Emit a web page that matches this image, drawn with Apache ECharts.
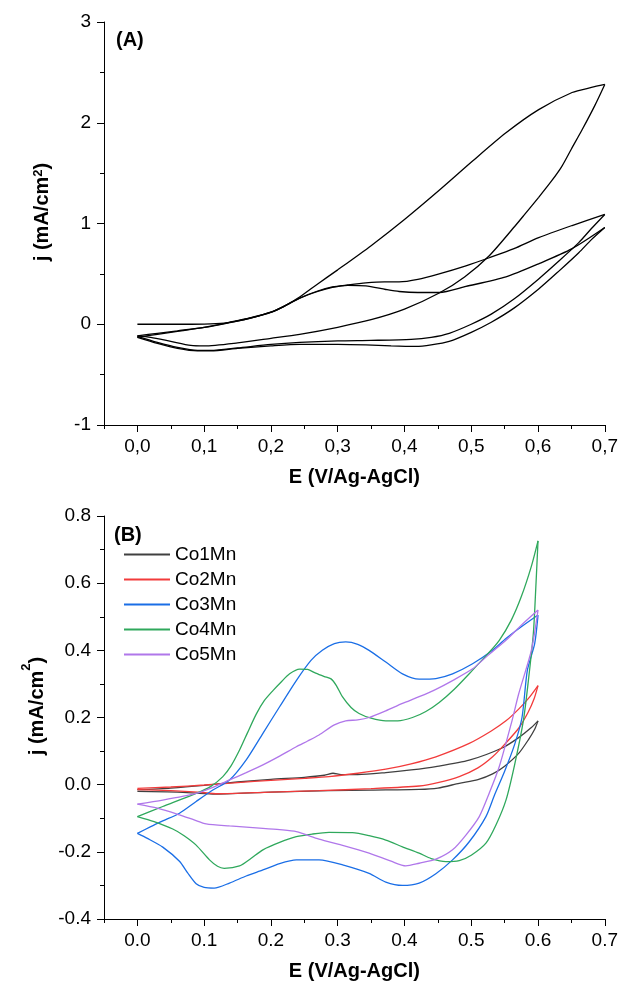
<!DOCTYPE html>
<html><head><meta charset="utf-8">
<script src="https://cdn.jsdelivr.net/npm/echarts@6.0.0/dist/echarts.min.js"></script>
<style>html,body{margin:0;padding:0;background:#fff}#c{width:621px;height:982px}</style>
</head><body><div id="c"></div>
<script>
// ---------- Panel (A): three CV scans (E in V, j in mA/cm2) ----------
const scanA1Forward = [[0,0],[0.05,0],[0.1,0.002],[0.13,0.012],[0.16,0.045],[0.2,0.12],[0.22,0.18],[0.243,0.27],[0.27,0.4],[0.3,0.54],[0.35,0.78],[0.4,1.04],[0.452,1.33],[0.502,1.62],[0.552,1.9],[0.601,2.13],[0.651,2.3],[0.68,2.35],[0.7,2.38]];
const scanA1Reverse = [[0.7,2.38],[0.685,2.17],[0.666,1.93],[0.65,1.74],[0.635,1.56],[0.62,1.42],[0.601,1.26],[0.58,1.09],[0.565,0.97],[0.527,0.68],[0.49,0.47],[0.452,0.31],[0.4,0.15],[0.35,0.045],[0.3,-0.03],[0.243,-0.1],[0.2,-0.14],[0.15,-0.185],[0.1,-0.215],[0.08,-0.21],[0.05,-0.17],[0.02,-0.13],[0,-0.115]];
const scanA2Forward = [[0,-0.115],[0.03,-0.09],[0.06,-0.065],[0.1,-0.03],[0.142,0.025],[0.17,0.065],[0.2,0.12],[0.22,0.18],[0.243,0.26],[0.27,0.33],[0.292,0.37],[0.315,0.39],[0.342,0.41],[0.37,0.42],[0.392,0.42],[0.42,0.445],[0.452,0.5],[0.492,0.58],[0.527,0.66],[0.564,0.75],[0.601,0.86],[0.651,0.98],[0.7,1.09]];
const scanA2Reverse = [[0.7,1.09],[0.68,0.95],[0.661,0.81],[0.63,0.62],[0.601,0.45],[0.564,0.25],[0.53,0.1],[0.5,0],[0.467,-0.09],[0.44,-0.13],[0.41,-0.15],[0.35,-0.16],[0.3,-0.165],[0.243,-0.18],[0.2,-0.2],[0.15,-0.235],[0.11,-0.26],[0.09,-0.26],[0.06,-0.23],[0.03,-0.18],[0,-0.12]];
const scanA3Forward = [[0,-0.13],[0.03,-0.1],[0.06,-0.07],[0.1,-0.032],[0.142,0.022],[0.17,0.062],[0.2,0.118],[0.22,0.178],[0.243,0.258],[0.27,0.325],[0.292,0.365],[0.315,0.385],[0.342,0.38],[0.372,0.345],[0.392,0.325],[0.42,0.315],[0.452,0.315],[0.492,0.375],[0.552,0.47],[0.601,0.6],[0.651,0.75],[0.7,0.96]];
const scanA3Reverse = [[0.7,0.96],[0.68,0.84],[0.661,0.71],[0.63,0.52],[0.601,0.35],[0.564,0.16],[0.53,0.02],[0.5,-0.08],[0.467,-0.17],[0.44,-0.205],[0.417,-0.22],[0.38,-0.215],[0.342,-0.205],[0.3,-0.2],[0.243,-0.2],[0.2,-0.215],[0.15,-0.24],[0.11,-0.265],[0.09,-0.265],[0.06,-0.24],[0.03,-0.19],[0,-0.13]];

// ---------- Panel (B): CoxMn samples ----------
const sampleNames = ['Co1Mn','Co2Mn','Co3Mn','Co4Mn','Co5Mn'];
const co1Forward = [[0,-0.015],[0.05,-0.01],[0.1,-0.002],[0.15,0.008],[0.2,0.016],[0.25,0.022],[0.28,0.028],[0.293,0.034],[0.305,0.03],[0.33,0.03],[0.372,0.036],[0.41,0.044],[0.447,0.054],[0.497,0.073],[0.547,0.11],[0.571,0.14],[0.59,0.17],[0.6,0.19]];
const co1Reverse = [[0.6,0.19],[0.595,0.165],[0.586,0.135],[0.571,0.093],[0.55,0.055],[0.532,0.032],[0.51,0.015],[0.482,0.004],[0.45,-0.01],[0.422,-0.014],[0.35,-0.016],[0.287,-0.018],[0.2,-0.022],[0.113,-0.028],[0.06,-0.022],[0,-0.02]];
const co2Forward = [[0,-0.011],[0.05,-0.007],[0.1,-0.001],[0.15,0.006],[0.2,0.013],[0.25,0.019],[0.287,0.024],[0.33,0.034],[0.372,0.046],[0.41,0.062],[0.447,0.083],[0.497,0.123],[0.53,0.16],[0.552,0.19],[0.571,0.225],[0.587,0.26],[0.6,0.295]];
const co2Reverse = [[0.6,0.295],[0.594,0.255],[0.585,0.215],[0.571,0.168],[0.55,0.12],[0.532,0.083],[0.51,0.05],[0.482,0.024],[0.45,0.006],[0.422,-0.004],[0.35,-0.012],[0.272,-0.018],[0.2,-0.022],[0.12,-0.027],[0.09,-0.022],[0.05,-0.018],[0,-0.015]];
const co3Forward = [[0,-0.145],[0.02,-0.125],[0.038,-0.108],[0.063,-0.085],[0.088,-0.05],[0.113,-0.016],[0.138,0.014],[0.163,0.074],[0.188,0.153],[0.213,0.232],[0.238,0.31],[0.26,0.37],[0.277,0.4],[0.295,0.42],[0.312,0.425],[0.33,0.418],[0.347,0.4],[0.372,0.365],[0.397,0.33],[0.422,0.314],[0.447,0.316],[0.472,0.33],[0.502,0.36],[0.532,0.4],[0.552,0.435],[0.575,0.47],[0.6,0.505]];
const co3Reverse = [[0.6,0.505],[0.595,0.42],[0.584,0.34],[0.576,0.2],[0.565,0.12],[0.55,0.04],[0.535,-0.03],[0.522,-0.095],[0.497,-0.17],[0.472,-0.224],[0.447,-0.265],[0.422,-0.293],[0.397,-0.3],[0.372,-0.29],[0.347,-0.264],[0.31,-0.24],[0.272,-0.224],[0.238,-0.224],[0.213,-0.235],[0.188,-0.254],[0.163,-0.272],[0.138,-0.293],[0.115,-0.308],[0.1,-0.306],[0.088,-0.295],[0.075,-0.262],[0.063,-0.228],[0.038,-0.186],[0.015,-0.16],[0,-0.145]];
const co4Forward = [[0,-0.095],[0.038,-0.065],[0.088,-0.026],[0.11,-0.005],[0.128,0.024],[0.14,0.055],[0.153,0.103],[0.165,0.155],[0.178,0.21],[0.19,0.25],[0.203,0.28],[0.215,0.305],[0.228,0.33],[0.243,0.344],[0.255,0.343],[0.267,0.332],[0.28,0.322],[0.29,0.315],[0.298,0.295],[0.307,0.262],[0.32,0.23],[0.332,0.212],[0.35,0.198],[0.372,0.19],[0.39,0.19],[0.412,0.2],[0.432,0.218],[0.452,0.245],[0.475,0.285],[0.502,0.341],[0.525,0.39],[0.542,0.43],[0.56,0.49],[0.575,0.56],[0.59,0.65],[0.6,0.726]];
const co4Reverse = [[0.6,0.726],[0.597,0.6],[0.593,0.45],[0.585,0.3],[0.578,0.19],[0.565,0.06],[0.552,-0.046],[0.537,-0.12],[0.522,-0.174],[0.5,-0.21],[0.482,-0.226],[0.462,-0.229],[0.44,-0.22],[0.422,-0.204],[0.397,-0.185],[0.372,-0.165],[0.347,-0.152],[0.322,-0.143],[0.287,-0.142],[0.262,-0.147],[0.238,-0.155],[0.213,-0.172],[0.188,-0.194],[0.17,-0.22],[0.153,-0.242],[0.13,-0.249],[0.12,-0.243],[0.108,-0.224],[0.088,-0.18],[0.07,-0.152],[0.053,-0.132],[0.025,-0.11],[0,-0.095]];
const co5Forward = [[0,-0.058],[0.038,-0.046],[0.088,-0.026],[0.113,-0.008],[0.138,0.014],[0.163,0.036],[0.188,0.059],[0.213,0.085],[0.238,0.113],[0.255,0.13],[0.272,0.148],[0.295,0.178],[0.312,0.19],[0.33,0.193],[0.347,0.2],[0.372,0.22],[0.397,0.242],[0.422,0.262],[0.447,0.284],[0.472,0.31],[0.502,0.345],[0.525,0.385],[0.552,0.43],[0.575,0.475],[0.6,0.52]];
const co5Reverse = [[0.6,0.52],[0.59,0.4],[0.571,0.27],[0.561,0.19],[0.542,0.054],[0.527,-0.025],[0.512,-0.095],[0.492,-0.15],[0.472,-0.194],[0.447,-0.222],[0.422,-0.234],[0.402,-0.242],[0.38,-0.228],[0.347,-0.204],[0.31,-0.182],[0.272,-0.162],[0.238,-0.14],[0.213,-0.134],[0.188,-0.13],[0.138,-0.123],[0.103,-0.117],[0.085,-0.105],[0.063,-0.09],[0.03,-0.07],[0,-0.058]];

// ---------- Tick values ----------
const xMajorTicks = [0,0.1,0.2,0.3,0.4,0.5,0.6,0.7];
const xMinorTicks = [-0.05,0.05,0.15,0.25,0.35,0.45,0.55,0.65];

// ---------- styles ----------
const FONT = 'Liberation Sans, Arial, sans-serif';
const sampleColors = ['#404040','#f23b3b','#1a6ee6','#2fa85c','#b077ea'];
const AXIS = {color:'#000', width:1};

function mainX(grid, fmt){
  return {type:'value', gridIndex:grid, position:'bottom', min:-0.05, max:0.7,
    axisLine:{show:true, onZero:false, lineStyle:AXIS},
    axisTick:{show:true, customValues:xMajorTicks, length:7, lineStyle:AXIS},
    axisLabel:{show:true, customValues:xMajorTicks, formatter:fmt, fontSize:19, color:'#000', fontFamily:FONT, margin:12},
    splitLine:{show:false},
    name:'E (V/Ag-AgCl)', nameLocation:'middle', nameGap:42,
    nameTextStyle:{fontSize:20, fontWeight:'bold', color:'#000', fontFamily:FONT}};
}
function minorX(grid){
  return {type:'value', gridIndex:grid, position:'bottom', min:-0.05, max:0.7,
    axisLine:{show:false, onZero:false},
    axisTick:{show:true, customValues:xMinorTicks, length:4, lineStyle:AXIS},
    axisLabel:{show:false}, splitLine:{show:false}};
}
function yAx(grid, min, max, interval, fmt, raise, gap){
  return {type:'value', gridIndex:grid, min:min, max:max, interval:interval,
    axisLine:{show:true, onZero:false, lineStyle:AXIS},
    axisTick:{show:true, length:7, lineStyle:AXIS},
    minorTick:{show:true, splitNumber:2, length:4, lineStyle:AXIS},
    axisLabel:{formatter:fmt, fontSize:19, color:'#000', fontFamily:FONT, margin:13},
    splitLine:{show:false}, minorSplitLine:{show:false},
    name:'{m|j (mA/cm}{s|2}{m|)}', nameLocation:'middle', nameRotate:90, nameGap:gap,
    nameTextStyle:{fontSize:20, fontWeight:'bold', color:'#000', fontFamily:FONT, padding:[0,0,0,23],
      rich:{m:{fontSize:20, fontWeight:'bold', color:'#000', fontFamily:FONT, lineHeight:raise},
            s:{fontSize:13, fontWeight:'bold', color:'#000', fontFamily:FONT, verticalAlign:'top', lineHeight:13}}}};
}

const series = [];
[scanA1Forward, scanA1Reverse, scanA2Forward, scanA2Reverse, scanA3Forward, scanA3Reverse].forEach(d => {
  series.push({type:'line', xAxisIndex:0, yAxisIndex:0, data:d, symbol:'none', smooth:0.25,
    lineStyle:{color:'#000', width:1.3}, silent:true});
});
const bData = [[co1Forward,co1Reverse],[co2Forward,co2Reverse],[co3Forward,co3Reverse],[co4Forward,co4Reverse],[co5Forward,co5Reverse]];
bData.forEach((pair, i) => {
  pair.forEach(d => {
    series.push({type:'line', name:sampleNames[i], xAxisIndex:2, yAxisIndex:1, data:d, symbol:'none',
      smooth:0.25, color:sampleColors[i],
      lineStyle:{color:sampleColors[i], width:1.3}, silent:true});
  });
});

const option = {
  animation:false,
  backgroundColor:'#fff',
  textStyle:{fontFamily:FONT},
  grid:[{left:104, right:15, top:22, height:403}, {left:104, right:15, top:516, height:403}],
  xAxis:[mainX(0, v => v.toFixed(1).replace('.', ',')), minorX(0),
         mainX(1, v => v.toFixed(1)), minorX(1)],
  yAxis:[yAx(0, -1, 3, 1, v => String(Math.round(v)), 20, 52),
         yAx(1, -0.4, 0.8, 0.2, v => Math.abs(v) < 1e-9 ? '0.0' : v.toFixed(1), 34, 50)],
  legend:{data:sampleNames, orient:'vertical', left:119, top:540, itemWidth:46, itemHeight:2, icon:'rect',
    itemGap:6, textStyle:{fontSize:19, color:'#000', fontFamily:FONT}, selectedMode:false},
  graphic:[
    {type:'text', left:116, top:30, style:{text:'(A)', font:'bold 20px ' + FONT, fill:'#000'}},
    {type:'text', left:114, top:525, style:{text:'(B)', font:'bold 20px ' + FONT, fill:'#000'}}
  ],
  series:series
};
const chart = echarts.init(document.getElementById('c'), null, {renderer:'canvas'});
chart.setOption(option);
</script></body></html>
